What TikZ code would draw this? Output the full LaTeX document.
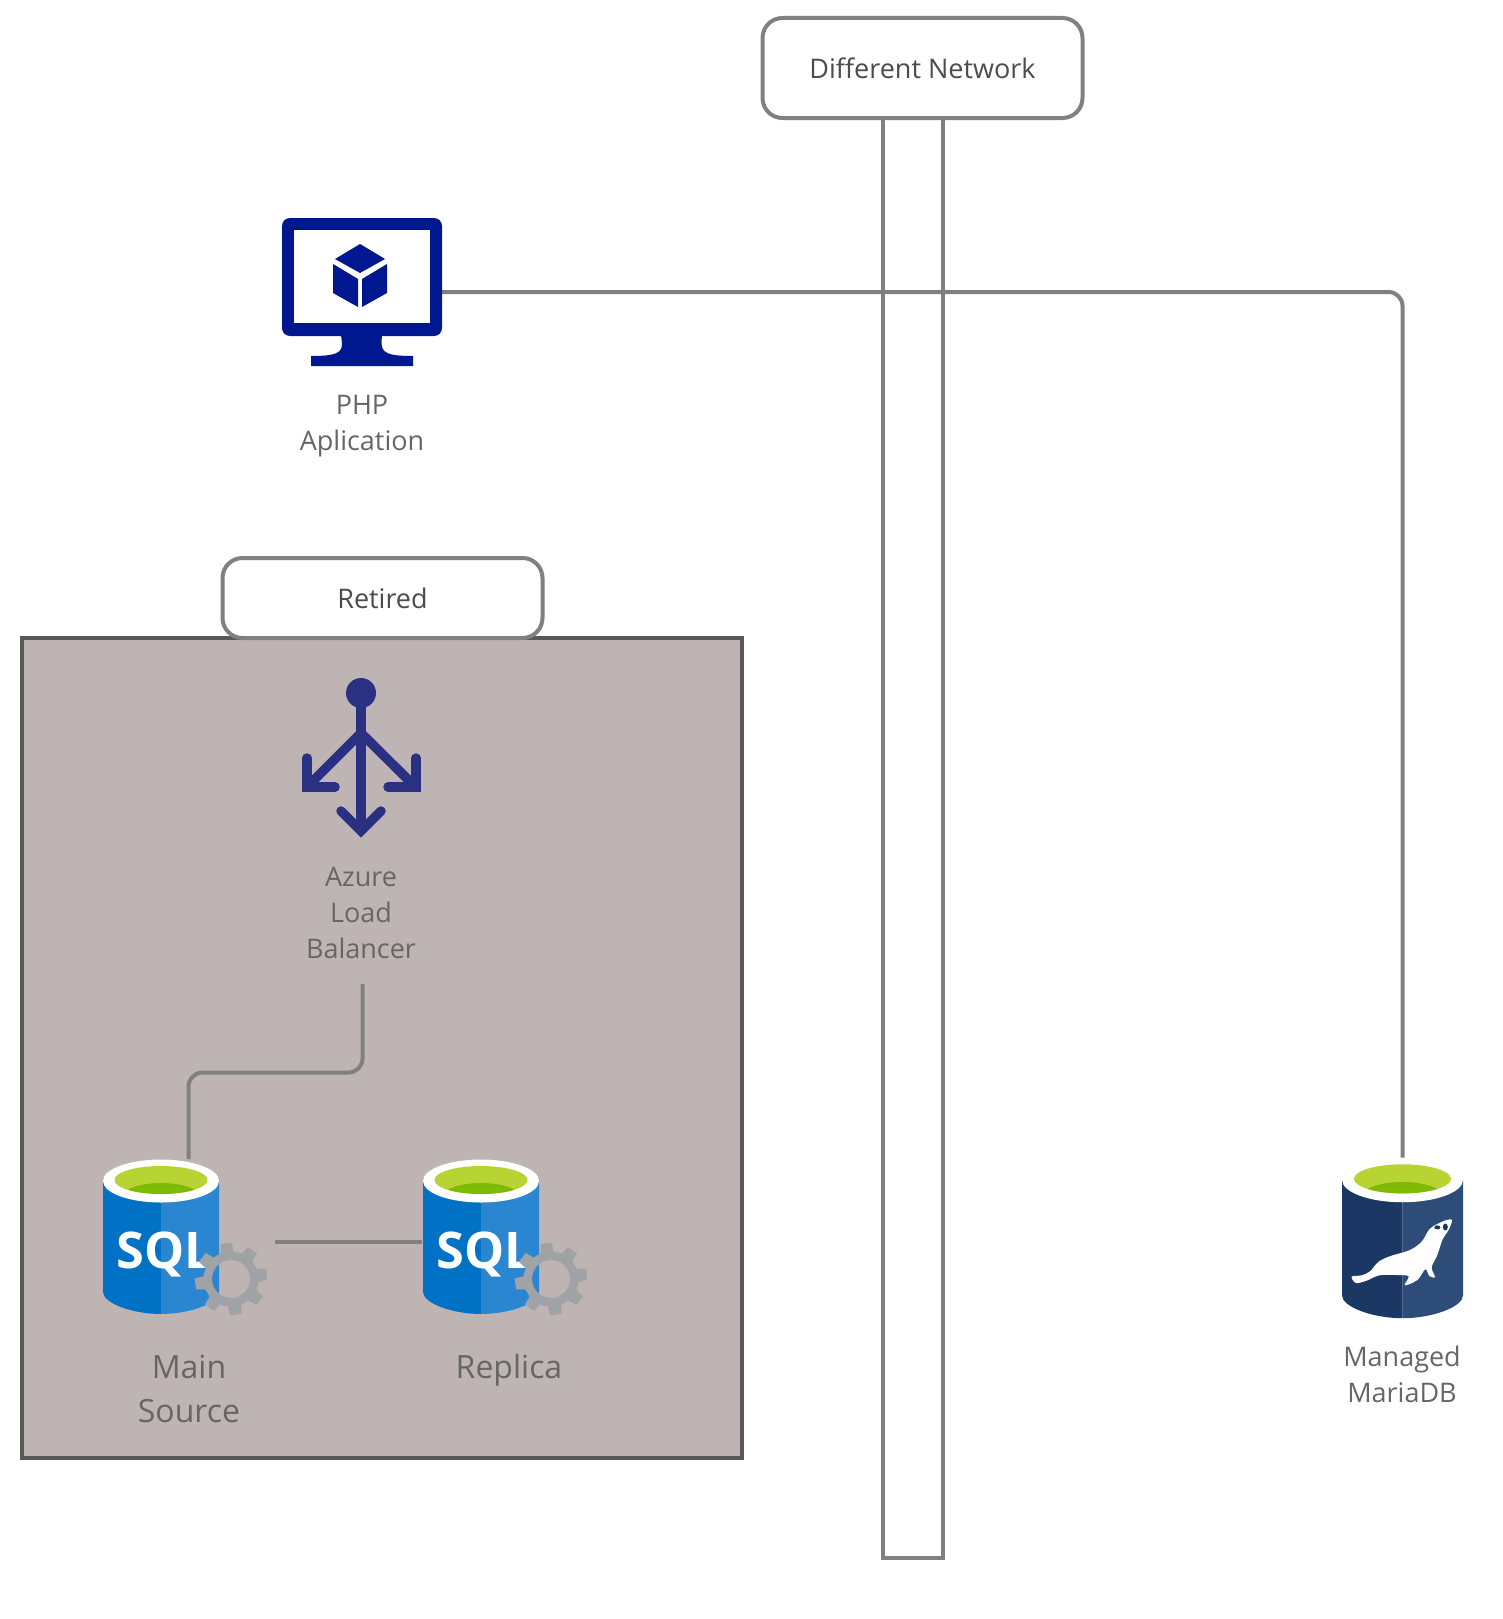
\documentclass[tikz,border=0pt]{standalone}
\usepackage{fontspec}
\setmainfont{Open Sans}
\definecolor{wire}{HTML}{808080}
\definecolor{panel}{HTML}{BEB4B3}
\definecolor{panelline}{HTML}{595959}
\definecolor{caption}{HTML}{666666}
\definecolor{vmblue}{HTML}{00188F}
\definecolor{lbblue}{HTML}{2A3183}
\definecolor{lime}{HTML}{B8D432}
\definecolor{limedark}{HTML}{7FBA00}
\definecolor{gear}{HTML}{A0A3A5}
\definecolor{sqlleft}{HTML}{0072C6}
\definecolor{sqlright}{HTML}{2A86D0}
\definecolor{mdbleft}{HTML}{1B3763}
\definecolor{mdbright}{HTML}{2D4D78}
\tikzset{
  wireline/.style={draw=wire,line width=4pt,rounded corners=14pt},
  tagbox/.style={draw=wire,fill=white,line width=4pt,rounded corners=20pt,text=black!70,
    font=\fontsize{27}{32}\selectfont,inner sep=0pt},
  iconbox/.style={inner sep=0pt,outer sep=0pt},
  captiontext/.style={text=caption,align=center,inner sep=0pt,font=\fontsize{27}{36}\selectfont},
  bigcaption/.style={captiontext,font=\fontsize{32}{44}\selectfont}
}
% cylinder shared by the two database icons, #1 = top left corner, #2 and #3 = body colours
\newcommand{\dbbody}[3]{
  \begin{scope}[shift={(#1)}]
  \fill[#2] (0,22) -- (0,133) .. controls (0,144) and (29,155) .. (58,155) -- (58,22) -- cycle;
  \fill[#3] (58,22) -- (58,155) .. controls (87,155) and (116,144) .. (116,133) -- (116,22) -- cycle;
  \fill[white] (58,22) ellipse (58pt and 21.5pt);
  \fill[lime] (58,21) ellipse (46.5pt and 14pt);
  \begin{scope}
  \clip (58,21) ellipse (46.5pt and 14pt);
  \fill[limedark] (58,39) ellipse (40pt and 15pt);
  \end{scope}
  \end{scope}
}
\newcommand{\sqlicon}[1]{
  \begin{scope}[shift={(#1)}]
  \dbbody{1,0}{sqlleft}{sqlright}
  \node[text=white,inner sep=0pt,anchor=base] at (63,109) {\fontsize{50.5}{50}\selectfont\bfseries SQL};
  % gear
  \begin{scope}[shift={(129,120)}]
  \fill[gear,even odd rule] (0,0) circle (27.5pt) (0,0) circle (19pt);
  \foreach \a in {8,53,...,323}
    \fill[gear,rotate=\a] (24,-7) -- (36,-5.5) -- (36,5.5) -- (24,7) -- cycle;
  \end{scope}
  \end{scope}
}
\begin{document}
\begin{tikzpicture}[x=1pt,y=-1pt]
\useasboundingbox (0,0) rectangle (1502,1619);
% retired panel
\node[draw=panelline,fill=panel,line width=3.6pt,inner sep=0pt,minimum width=720pt,minimum height=820pt] (panel) at (382,1048) {};
\node[tagbox,minimum width=320pt,minimum height=80pt] (retired) at (382.5,598) {Retired};
% network column
\node[draw=wire,line width=4pt,inner sep=0pt,minimum width=60pt,minimum height=1458pt] (column) at (912.5,829) {};
\node[tagbox,minimum width=320pt,minimum height=100pt] (network) at (922.5,68) {Different Network};

% icon nodes
\node[iconbox,minimum width=160pt,minimum height=148pt] (php) at (362,292) {};
\node[iconbox,minimum width=172pt,minimum height=166pt] (main) at (188.5,1242) {};
\node[iconbox,minimum width=172pt,minimum height=166pt] (replica) at (508,1242) {};
\node[iconbox,minimum width=122pt,minimum height=160pt] (maria) at (1402.5,1241.5) {};

% captions
\node[captiontext] (phptext) at (362,426) {PHP\\Aplication};
\node[captiontext] (lbtext) at (361,913) {Azure\\Load\\Balancer};
\node[bigcaption] (maintext) at (189,1389) {Main\\Source};
\node[bigcaption,anchor=north] (replicatext) at (509,1354) {Replica};
\node[captiontext] (mariatext) at (1402,1374) {Managed\\MariaDB};

% connectors
\coordinate (phpturn) at (1402.5,292);
\coordinate (lbturn) at (362.5,1072.5);
\draw[wireline] (php.east) -- (phpturn) -- (maria.north);
\draw[wireline] ([yshift=-25pt]lbtext.south -| lbturn) -- (lbturn) -- (lbturn -| main.north) -- (main.north);
\draw[wireline] (main.east) -- (replica.west);

% php monitor
\fill[vmblue,rounded corners=8pt] (282,218) rectangle (442,336);
\fill[white] (294,230) rectangle (430,323);
\fill[vmblue] (341,335) .. controls (343,350) and (345,356) .. (311,356) -- (311,366) -- (413,366) -- (413,356)
  .. controls (379,356) and (381,350) .. (382,335) -- cycle;
\fill[vmblue] (360,244) -- (385,259) -- (360,273) -- (335,259) -- cycle;
\fill[vmblue] (333,264) -- (358,279) -- (358,307) -- (333,293) -- cycle;
\fill[vmblue] (362,279) -- (387,264) -- (387,293) -- (362,307) -- cycle;

% load balancer
\fill[lbblue] (361,693) circle (15pt);
\draw[lbblue,line width=9.5pt] (361,693) -- (361,830);
\draw[lbblue,line width=9.5pt] (361,733) -- (307,787);
\draw[lbblue,line width=9.5pt] (361,733) -- (415.5,787);
\draw[lbblue,line width=9.5pt,line cap=round,miter limit=4] (307,758) -- (307,787) -- (335,787);
\draw[lbblue,line width=9.5pt,line cap=round,miter limit=4] (416,758) -- (416,787) -- (388,787);
\draw[lbblue,line width=9.5pt,line cap=round,miter limit=4] (341,811) -- (361,831) -- (381,811);

% databases
\sqlicon{102,1159}
\sqlicon{422,1159}
\begin{scope}[shift={(1342,1157)},xscale=1.043,yscale=1.04]
\dbbody{0,0}{mdbleft}{mdbright}
\end{scope}
\begin{scope}[shift={(1320,1150)},x=.3333pt,y=.3333pt]
\fill[white] plot[smooth cycle,tension=.55] coordinates {(95,-380) (108,-399) (140,-392) (178,-376) (232,-375) (266,-379)
  (254,-406) (292,-390) (316,-358) (328,-378) (345,-381) (335,-352) (352,-315) (368,-268) (387,-238) (396,-210)
  (380,-210) (352,-222) (328,-238) (305,-275) (270,-300) (212,-318) (176,-335) (150,-364) (125,-376)};
\fill[mdbleft] (352,-232) ellipse (3pt and 2pt);
\fill[mdbleft] (376,-231) ellipse (2.5pt and 3.5pt);
\end{scope}
\end{tikzpicture}
\end{document}
